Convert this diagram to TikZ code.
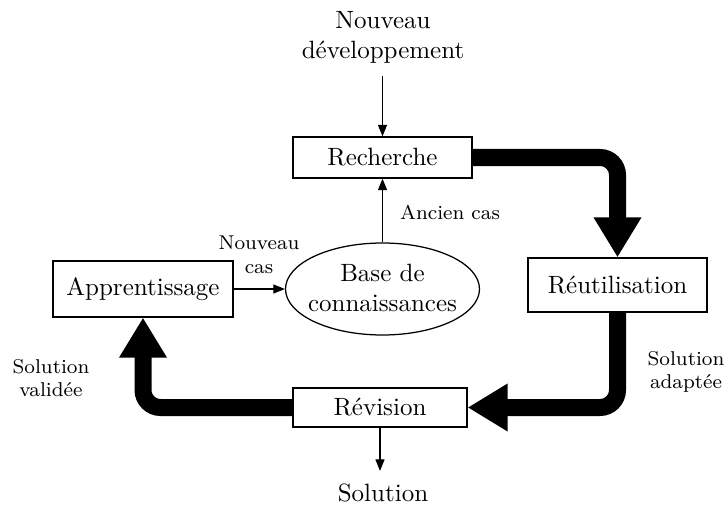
\documentclass[tikz,border=0pt]{standalone}
\usepackage{fontspec}
\usetikzlibrary{arrows.meta,shapes.geometric}
\begin{document}
\begin{tikzpicture}[x=0.4pt,y=-0.4pt,
  stage/.style={draw,line width=0.5pt,inner sep=0pt,minimum width=71.6pt,font=\normalsize},
  lbl/.style={align=center,font=\footnotesize,inner sep=0pt},
  thin/.style={line width=0.45pt,-{Triangle[width=3.6pt,length=4.6pt]}},
  thick/.style={line width=6.8pt,rounded corners=7pt,-{Triangle[width=18pt,length=16pt]}}]
\useasboundingbox (0,0) rectangle (726,506);
\node[stage,minimum height=16.4pt] (rech) at (382.5,157.5) {Recherche};
\node[stage,minimum height=22.4pt,minimum width=72pt] (app) at (143,289) {Apprentissage};
\node[stage,minimum height=21.6pt] (reu) at (617.5,285) {R\'eutilisation};
\node[stage,minimum height=15.6pt,minimum width=69.6pt] (rev) at (380,407.5) {R\'evision};
\node[draw,ellipse,line width=0.5pt,minimum width=77.6pt,minimum height=36.8pt,inner sep=0pt] (base) at (382.5,289) {};
\node[align=center,inner sep=0pt] (basetxt) at (382.5,288) {Base de\\{\addfontfeature{LetterSpace=3}connaissances}};
\node[align=center,inner sep=0pt] (nd) at (383,37) {Nouveau\\d\'eveloppement};
\node[inner sep=0pt] (sol) at (383,493) {Solution};
\node[lbl] (ancien) at (450,212) {Ancien cas};
\node[lbl] (ncas) at (259,255) {Nouveau\\cas};
\node[lbl] (sada) at (686,372) {Solution\\adapt\'ee};
\node[lbl] (sval) at (51,378) {Solution\\valid\'ee};
\draw[thin,shorten <=5pt] (nd.south -| rech.north) -- (rech.north);
\draw[thin] (base.north) -- (rech.south);
\draw[thin] (app.east) -- (base.west);
\draw[thin,shorten >=5pt] (rev.south) -- (sol.north -| rev.south);
\draw[thick] (rech.east) -| (reu.north);
\draw[thick] (reu.south) |- (rev.east);
\draw[thick] (rev.west) -| (app.south);
\end{tikzpicture}
\end{document}
